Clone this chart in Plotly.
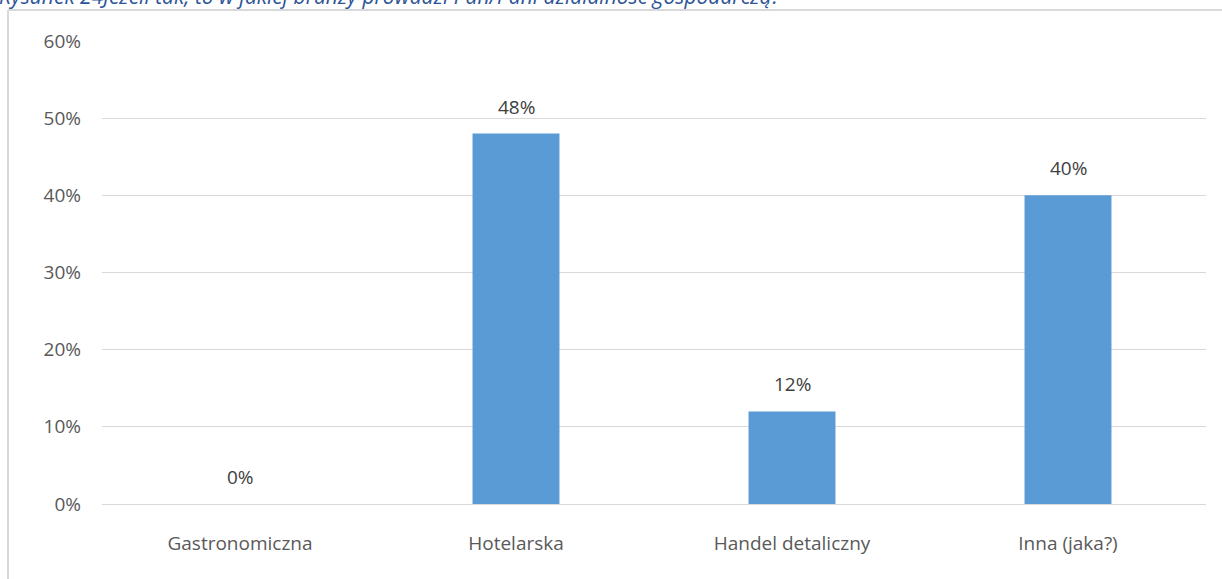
import plotly.graph_objects as go

categories = ["Gastronomiczna", "Hotelarska", "Handel detaliczny", "Inna (jaka?)"]
values = [0, 48, 12, 40]
tick_vals = [0, 10, 20, 30, 40, 50, 60]
tick_text = ["0%", "10%", "20%", "30%", "40%", "50%", "60%"]
title_text = "Rysunek 24Jeżeli tak, to w jakiej branży prowadzi Pan/Pani działalność gospodarczą?"

W, H = 1222, 579
ML, MR, MT, MB = 102, 16, 41, 75
pw, ph = W - ML - MR, H - MT - MB
FONT = "Open Sans"

fig = go.Figure()
fig.add_trace(go.Bar(
    x=categories, y=values,
    marker=dict(color="#5B9BD5", line=dict(width=0)),
    width=0.315,
    hoverinfo="skip",
))

annotations = [
    dict(x=c, y=v, xref="x", yref="y", text=f"{v}%", showarrow=False,
         yanchor="bottom", yshift=12,
         font=dict(family=FONT, size=19, color="#404040"))
    for c, v in zip(categories, values)
]
annotations.append(
    dict(text=f"<i>{title_text}</i>", xref="paper", yref="paper",
         x=(-3 - ML) / pw, y=(H - MB - 12) / ph, xanchor="left", yanchor="bottom",
         showarrow=False, font=dict(family=FONT, size=21, color="#2E5597"))
)

fig.update_layout(
    width=W, height=H,
    margin=dict(l=ML, r=MR, t=MT, b=MB),
    paper_bgcolor="white", plot_bgcolor="white",
    showlegend=False,
    font=dict(family=FONT, size=19, color="#595959"),
    xaxis=dict(showgrid=False, showline=False, ticks="", ticklabelstandoff=26,
               tickfont=dict(family=FONT, size=19, color="#595959")),
    yaxis=dict(range=[0, 60], tickvals=tick_vals, ticktext=tick_text,
               showgrid=True, gridcolor="#D9D9D9", gridwidth=1,
               zeroline=True, zerolinecolor="#D9D9D9", zerolinewidth=1,
               showline=False, ticks="", ticklabelstandoff=20,
               tickfont=dict(family=FONT, size=19, color="#595959")),
    shapes=[
        dict(type="line", xref="paper", yref="paper",
             x0=(8 - ML) / pw, x1=(W - ML) / pw, y0=(H - MB - 10) / ph, y1=(H - MB - 10) / ph,
             line=dict(color="#D9D9D9", width=2)),
        dict(type="line", xref="paper", yref="paper",
             x0=(8 - ML) / pw, x1=(8 - ML) / pw, y0=(H - MB - 10) / ph, y1=-MB / ph - 0.01,
             line=dict(color="#D9D9D9", width=2)),
    ],
    annotations=annotations,
)

fig.write_html("out.html", config={"displayModeBar": False},
               post_script="document.body.style.margin='0';document.body.style.overflow='hidden';")
